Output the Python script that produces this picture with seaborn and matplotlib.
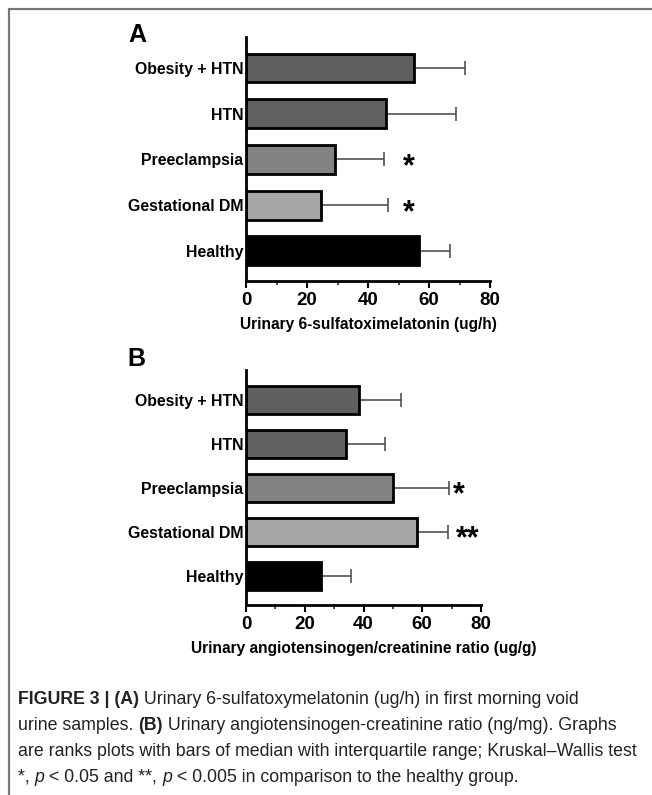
import matplotlib
matplotlib.use("Agg")
import matplotlib.pyplot as plt
from matplotlib import font_manager
from matplotlib.lines import Line2D
from matplotlib.ticker import MultipleLocator
import seaborn as sns
import pandas as pd

# data (median and upper quartile)
groups = ["Obesity + HTN", "HTN", "Preeclampsia", "Gestational DM", "Healthy"]
melatonin_median = [55, 45.8, 29.3, 24.7, 56.6]
melatonin_q3 = [71.8, 69, 45.2, 46.5, 67]
agt_median = [38.6, 34.1, 49.9, 58.1, 25.7]
agt_q3 = [52.8, 47.3, 69.2, 68.6, 35.8]
stars_a = ["", "", "*", "*", ""]
stars_b = ["", "", "*", "**", ""]
bar_colors = ["#5f5f5f", "#616161", "#838383", "#a8a4a8", "#000000"]

sns.set_style("white")
plt.rcParams["font.family"] = ["Liberation Sans", "DejaVu Sans"]
plt.rcParams["text.color"] = "black"

fig = plt.figure(figsize=(6.52, 7.95), dpi=100)
W, H = 652, 795


def panel(rect, median, q3, stars, xlabel, letter, letter_xy, star_x):
    ax = fig.add_axes(rect)
    df = pd.DataFrame({"group": groups, "value": median})
    sns.barplot(data=df, x="value", y="group", hue="group", palette=bar_colors,
                legend=False, ax=ax, width=0.63, edgecolor="black", linewidth=2,
                errorbar=None, zorder=2)
    upper = [b - a for a, b in zip(median, q3)]
    ax.errorbar(median, range(len(groups)), xerr=[[0] * len(groups), upper],
                fmt="none", ecolor="#444444", elinewidth=1.1, capsize=5,
                capthick=1.1, zorder=1)
    for i, s in enumerate(stars):
        if s:
            # asterisk glyph sits high in the line, nudge it down to the bar centre
            ax.text(star_x[i], i + 0.17, s, ha="center", va="center", fontsize=22,
                    fontweight="bold")
    ax.set_xlim(0, 80)
    ax.set_ylim(4.66, -0.68)
    ax.xaxis.set_major_locator(MultipleLocator(20))
    ax.xaxis.set_minor_locator(MultipleLocator(10))
    ax.tick_params(axis="x", which="major", length=5, width=1.5, direction="out",
                   labelsize=13.5, pad=3, bottom=True, colors="black")
    ax.tick_params(axis="x", which="minor", length=3, width=1.2, direction="out",
                   bottom=True)
    ax.tick_params(axis="y", length=0, labelsize=11.4, pad=2, colors="black")
    for lab in ax.get_xticklabels() + ax.get_yticklabels():
        lab.set_fontweight("bold")
    sns.despine(ax=ax)
    for sp in ["left", "bottom"]:
        ax.spines[sp].set_linewidth(2)
        ax.spines[sp].set_color("black")
    ax.set_ylabel("")
    ax.set_xlabel(xlabel, fontsize=11.2, fontweight="bold", labelpad=6,
                  color="black")
    ax.text(letter_xy[0], letter_xy[1], letter, transform=ax.transAxes,
            fontsize=18, fontweight="bold", ha="left", va="center")
    return ax


panel([246 / W, 1 - 281 / H, 244 / W, 244 / H], melatonin_median, melatonin_q3,
      stars_a, "Urinary 6-sulfatoximelatonin (ug/h)", "A", (-0.484, 1.01),
      [53.5] * 5)
panel([246 / W, 1 - 605 / H, 235 / W, 235 / H], agt_median, agt_q3,
      stars_b, "Urinary angiotensinogen/creatinine ratio (ug/g)", "B",
      (-0.504, 1.045), [72.5, 72.5, 72.5, 75.5, 72.5])

# frame of the figure page
fig.add_artist(Line2D([9 / W, 1], [1 - 8.5 / H] * 2, color="#777777", lw=1.6))
fig.add_artist(Line2D([9 / W] * 2, [0, 1 - 8.5 / H], color="#777777", lw=1.6))

# caption, drawn run by run so bold parts sit inline
caption = [
    [("FIGURE 3 | (A)", True), (" Urinary 6-sulfatoxymelatonin (ug/h) in first morning void", False)],
    [("urine samples. ", False), ("(B)", True), (" Urinary angiotensinogen-creatinine ratio (ng/mg). Graphs", False)],
    [("are ranks plots with bars of median with interquartile range; Kruskal\u2013Wallis test", False)],
    [("*, ", False), ("p", "italic"), (" < 0.05 and **, ", False), ("p", "italic"), (" < 0.005 in comparison to the healthy group.", False)],
]
cap_font = "Liberation Sans Narrow"
try:
    font_manager.findfont(cap_font, fallback_to_default=False)
except ValueError:
    cap_font = "Liberation Sans"

renderer = fig.canvas.get_renderer()
# size the caption so the full third line spans the text block width
probe = fig.text(0, 0, caption[2][0][0], fontsize=10, family=cap_font)
cap_size = 10 * 622 / probe.get_window_extent(renderer=renderer).width
probe.remove()

line_y = [700, 726, 751, 777]
for runs, yy in zip(caption, line_y):
    x = 18
    for txt, style in runs:
        t = fig.text(x / W, 1 - yy / H, txt, fontsize=cap_size, family=cap_font,
                     fontweight="bold" if style is True else "normal",
                     fontstyle="italic" if style == "italic" else "normal",
                     color="#222222", va="center", ha="left")
        x += t.get_window_extent(renderer=renderer).width

fig.savefig("out.png", dpi=100)
